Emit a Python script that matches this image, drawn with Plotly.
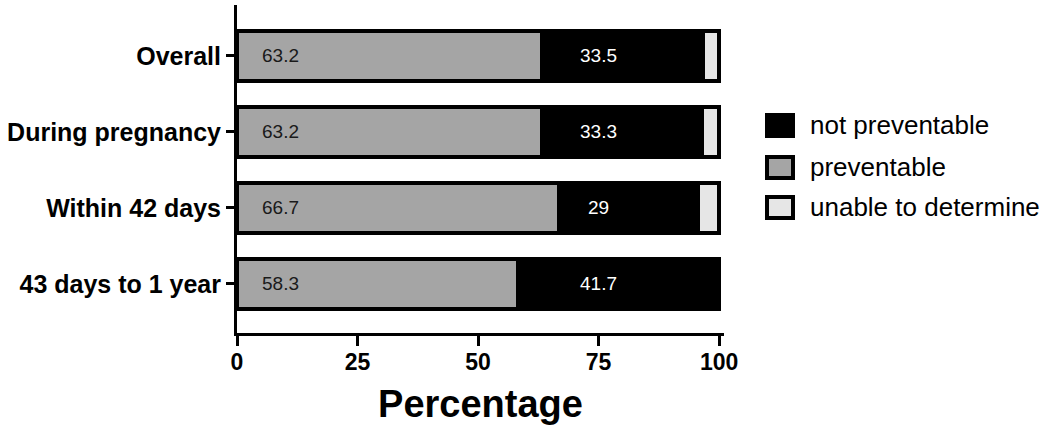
import plotly.graph_objects as go

categories = ["43 days to 1 year", "Within 42 days", "During pregnancy", "Overall"]
preventable = [58.3, 66.7, 63.2, 63.2]
not_preventable = [41.7, 29, 33.3, 33.5]
unable = [0, 4.3, 3.5, 3.3]
x_ticks = [0, 25, 50, 75, 100]
legend_names = ["not preventable", "preventable", "unable to determine"]

FONT = "Liberation Sans, Arial, sans-serif"
C_NOT = "#000000"
C_PREV = "#a5a5a5"
C_UNABLE = "#e6e6e6"

W, H = 1050, 433
L, R, T, B = 237, 326, 5, 100
pw, ph = W - L - R, H - T - B

fig = go.Figure()
for name, vals, col in [("preventable", preventable, C_PREV),
                        ("not preventable", not_preventable, C_NOT),
                        ("unable to determine", unable, C_UNABLE)]:
    fig.add_trace(go.Bar(
        y=categories, x=vals, orientation="h", name=name,
        marker=dict(color=col, line=dict(color="black", width=3.5)),
        showlegend=False, hoverinfo="x+y+name"))

annotations = []
for cat, p, n in zip(categories, preventable, not_preventable):
    annotations.append(dict(x=9, y=cat, xref="x", yref="y", text=f"{p:g}",
                            showarrow=False, font=dict(family=FONT, size=19, color="#1a1a1a")))
    annotations.append(dict(x=75, y=cat, xref="x", yref="y", text=f"{n:g}",
                            showarrow=False, font=dict(family=FONT, size=19, color="white")))

def px_x(px):
    return (px - L) / pw

def px_y(py):
    return (H - B - py) / ph

shapes = []
legend_cols = [C_NOT, C_PREV, C_UNABLE]
box_tops = [113, 155, 195]
for name, col, top in zip(legend_names, legend_cols, box_tops):
    shapes.append(dict(type="rect", xref="paper", yref="paper",
                       x0=px_x(767), x1=px_x(793), y0=px_y(top + 2), y1=px_y(top + 23),
                       fillcolor=col, line=dict(color="black", width=4)))
    annotations.append(dict(x=px_x(808), y=px_y(top + 12), xref="paper", yref="paper",
                            text=name, showarrow=False, xanchor="left", yanchor="middle",
                            font=dict(family=FONT, size=26, color="black")))

fig.update_layout(
    barmode="stack", bargap=0.34,
    width=W, height=H,
    margin=dict(l=L, r=R, t=T, b=B, pad=0, autoexpand=False),
    paper_bgcolor="white", plot_bgcolor="white",
    annotations=annotations, shapes=shapes,
    font=dict(family=FONT, color="black"),
    xaxis=dict(range=[0, 101], tickvals=x_ticks, ticktext=[str(v) for v in x_ticks],
               showgrid=False, zeroline=False, showline=True, linecolor="black", linewidth=3,
               ticks="outside", ticklen=10, tickwidth=3, tickcolor="black",
               ticklabelstandoff=-4,
               tickfont=dict(family=FONT, size=23, color="black", weight="bold"),
               title=dict(text="<b>Percentage</b>", font=dict(family=FONT, size=38, color="black"),
                          standoff=17)),
    yaxis=dict(type="category", categoryorder="array", categoryarray=categories,
               range=[-0.645, 3.67],
               showgrid=False, zeroline=False, showline=True, linecolor="black", linewidth=3,
               ticks="outside", ticklen=8, tickwidth=3, tickcolor="black",
               tickfont=dict(family=FONT, size=25, color="black", weight="bold")),
)

fig.write_html("out.html", config={"displayModeBar": False},
               post_script="document.body.style.margin='0';")
